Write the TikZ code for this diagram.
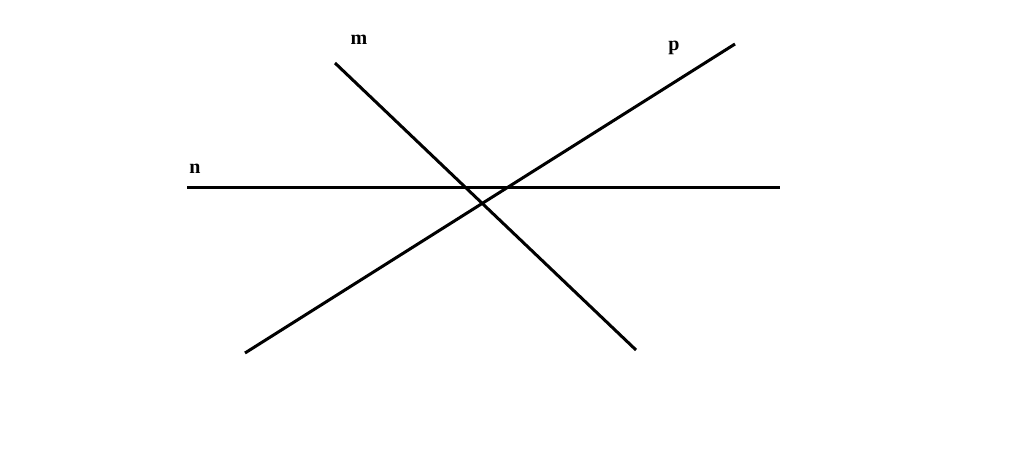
\documentclass[tikz,border=0pt]{standalone}
\usepackage{fontspec}
\setmainfont{Liberation Serif}
\begin{document}
\begin{tikzpicture}[x=1pt,y=-1pt,
  ln/.style={line width=3pt,black},
  lbl/.style={font=\fontsize{20}{22}\selectfont\bfseries,inner sep=0pt}]
\useasboundingbox[fill=white] (0,0) rectangle (1024,460);
\coordinate (m1) at (335,63); \coordinate (m2) at (636,350);
\coordinate (n1) at (187,187); \coordinate (n2) at (780,187);
\coordinate (p1) at (245,353); \coordinate (p2) at (735,44);
\draw[ln] (m1) -- (m2);
\draw[ln] (n1) -- (n2);
\draw[ln] (p1) -- (p2);
\node[lbl] (lm) at (359,40) {m};
\node[lbl] (lp) at (674,48) {p};
\node[lbl] (ln) at (195,169) {n};
\end{tikzpicture}
\end{document}
